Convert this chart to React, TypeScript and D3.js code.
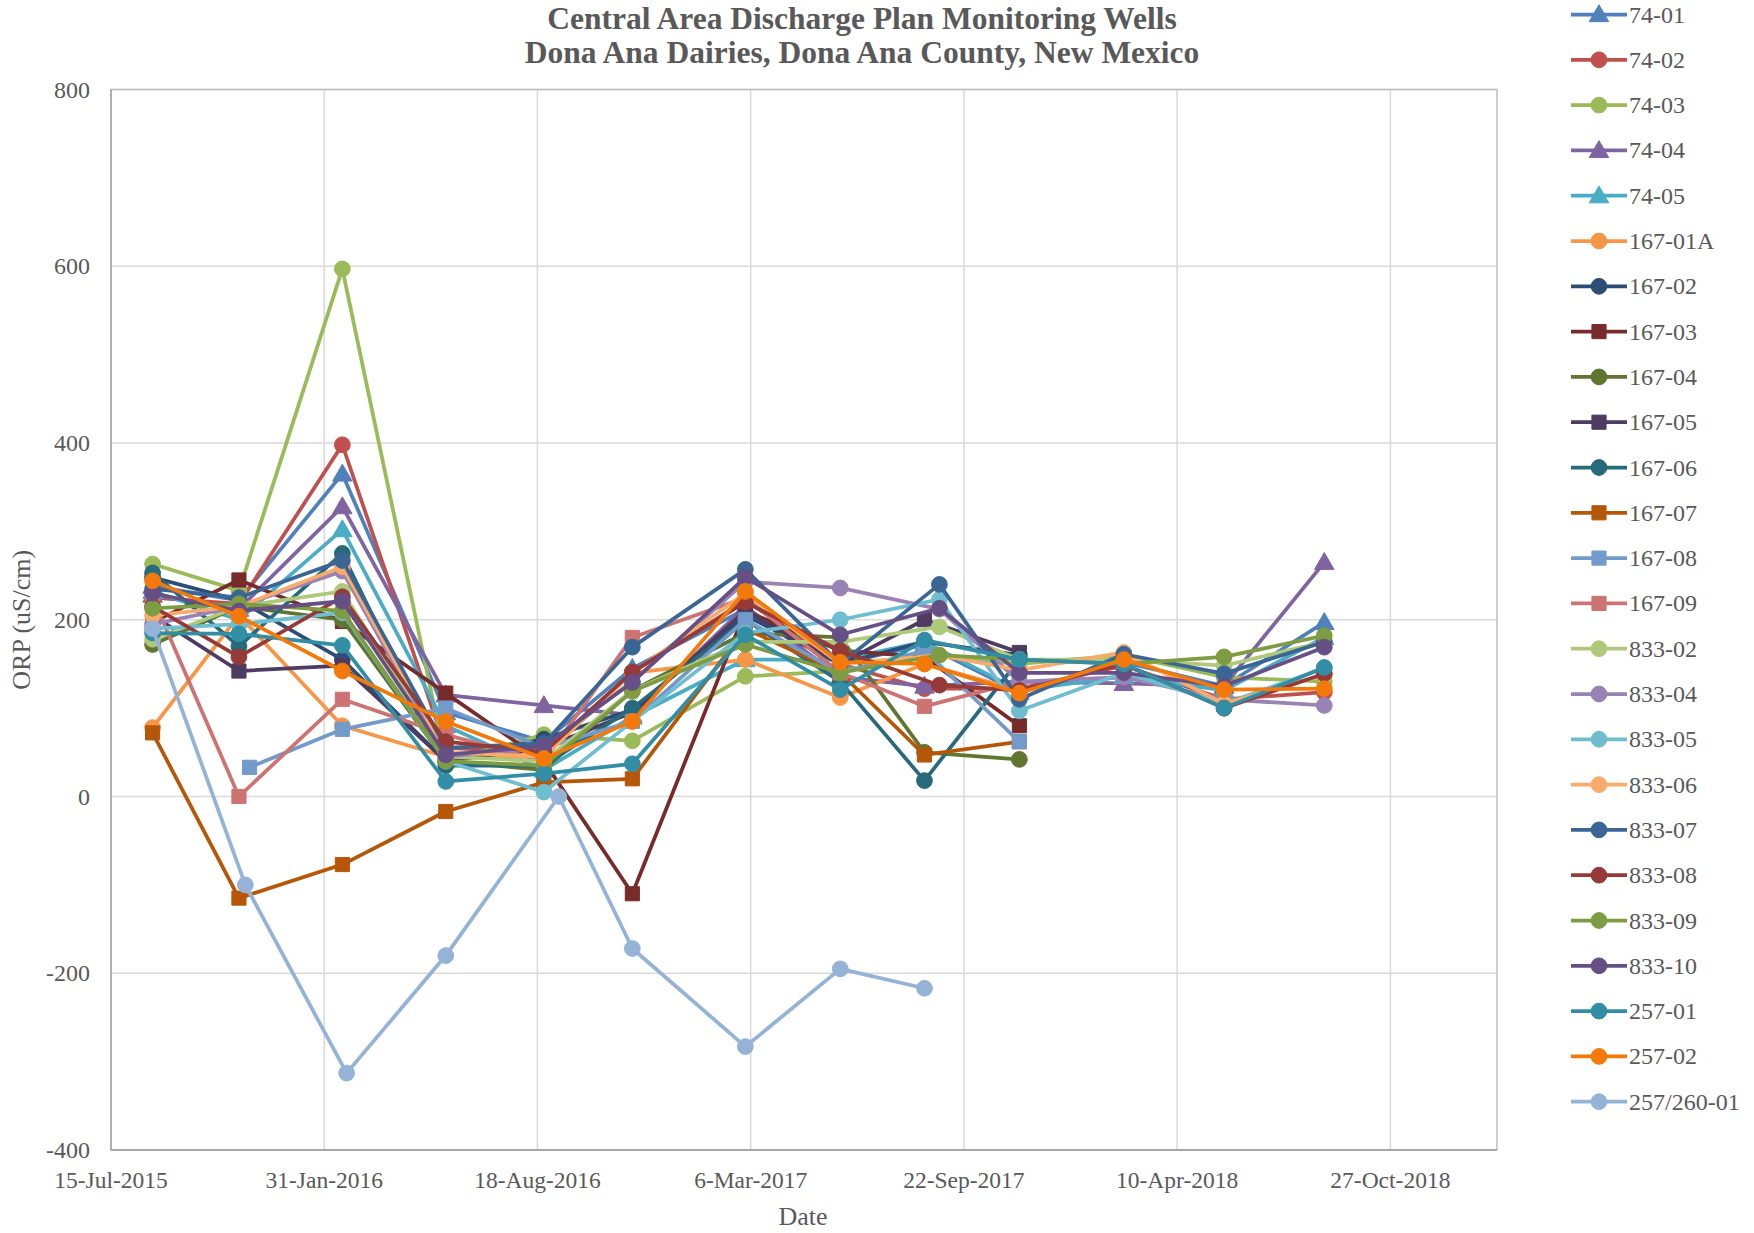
import React from "react";
import * as d3 from "d3";

// ---------- data ----------
const yTicks = [-400, -200, 0, 200, 400, 600, 800];
const xTickDates = ["2015-07-15", "2016-01-31", "2016-08-18", "2017-03-06", "2017-09-22", "2018-04-10", "2018-10-27"];
const xDomainDates = ["2015-07-15", "2019-02-04"];

const datesMain = ["2015-08-23", "2015-11-12", "2016-02-17", "2016-05-24", "2016-08-24", "2016-11-15", "2017-03-01", "2017-05-29", "2017-08-16", "2017-11-13", "2018-02-19", "2018-05-24", "2018-08-26"];
const dates833 = ["2015-08-23", "2015-11-12", "2016-02-17", "2016-05-24", "2016-08-24", "2016-11-15", "2017-03-01", "2017-05-29", "2017-08-30", "2017-11-13", "2018-02-19", "2018-05-24", "2018-08-26"];
const dates167_08 = ["2015-08-23", "2015-11-22", "2016-02-17", "2016-05-24", "2016-08-24", "2016-11-15", "2017-03-01", "2017-05-29", "2017-08-16", "2017-11-13"];
const dates257_260 = ["2015-08-23", "2015-11-18", "2016-02-21", "2016-05-24", "2016-09-07", "2016-11-15", "2017-03-01", "2017-05-29", "2017-08-16"];

const v74_01 = [238, 222, 365, 95, 62, 145, 212, 150, 172, 118, 152, 125, 197];
const v74_02 = [225, 218, 398, 55, 50, 140, 222, 150, 122, 122, 148, 110, 118];
const v74_03 = [263, 233, 597, 40, 70, 63, 136, 142, 160, 150, 160, 135, 130];
const v74_04 = [228, 212, 328, 115, 103, 92, 215, 135, 125, 130, 128, 125, 265];
const v74_05 = [232, 200, 302, 80, 30, 90, 155, 155, 175, 120, 136, 120, 180];
const v167_01A = [78, 205, 80, 45, 45, 140, 155, 112, 150, 120];
const v167_02 = [248, 222, 155, 40, 65, 98, 205, 150, 175, 160];
const v167_03 = [197, 245, 198, 117, 40, -110, 210, 165, 158, 80];
const v167_04 = [172, 215, 200, 40, 30, 120, 185, 180, 50, 42];
const v167_05 = [205, 142, 148, 40, 55, 95, 210, 150, 200, 163];
const v167_06 = [253, 170, 275, 35, 35, 100, 200, 130, 18, 155];
const v167_07 = [72, -115, -77, -17, 16, 20, 190, 140, 47, 62];
const v167_08 = [null, 33, 76, 100, 55, 85, 200, 140, 165, 62];
const v167_09 = [225, 0, 110, 70, 40, 180, 225, 140, 102, 130];
const v833_02 = [178, 215, 232, 45, 40, 120, 175, 175, 192, 155, 155, 148, 175];
const v833_04 = [195, 215, 255, 45, 55, 130, 243, 236, 212, 130, 135, 110, 103];
const v833_05 = [190, 195, 208, 40, 5, 85, 185, 200, 223, 97, 140, 105, 145];
const v833_06 = [205, 215, 260, 50, 45, 140, 230, 150, 160, 143, 163, 105, 138];
const v833_07 = [235, 225, 267, 55, 60, 169, 257, 150, 240, 110, 161, 139, 175];
const v833_08 = [215, 158, 226, 62, 50, 141, 220, 165, 126, 120, 150, 100, 139];
const v833_09 = [213, 218, 210, 40, 35, 119, 172, 140, 160, 155, 150, 158, 182];
const v833_10 = [230, 210, 221, 47, 57, 129, 248, 183, 213, 140, 140, 125, 169];
const v257_01 = [185, 184, 171, 17, 26, 37, 183, 121, 177, 155, 150, 100, 146];
const v257_02 = [244, 204, 142, 85, 43, 85, 232, 152, 150, 117, 155, 121, 122];
const v257_260_01 = [190, -100, -313, -180, 0, -172, -283, -195, -217];

type Shape = "circle" | "square" | "triangle";
const seriesList: { name: string; color: string; shape: Shape; dates: string[]; values: (number | null)[] }[] = [
  { name: "74-01", color: "#4F81BD", shape: "triangle", dates: datesMain, values: v74_01 },
  { name: "74-02", color: "#C0504D", shape: "circle", dates: datesMain, values: v74_02 },
  { name: "74-03", color: "#9BBB59", shape: "circle", dates: datesMain, values: v74_03 },
  { name: "74-04", color: "#8064A2", shape: "triangle", dates: datesMain, values: v74_04 },
  { name: "74-05", color: "#4BACC6", shape: "triangle", dates: datesMain, values: v74_05 },
  { name: "167-01A", color: "#F79646", shape: "circle", dates: datesMain, values: v167_01A },
  { name: "167-02", color: "#2C4D75", shape: "circle", dates: datesMain, values: v167_02 },
  { name: "167-03", color: "#772C2A", shape: "square", dates: datesMain, values: v167_03 },
  { name: "167-04", color: "#5F7530", shape: "circle", dates: datesMain, values: v167_04 },
  { name: "167-05", color: "#4D3B62", shape: "square", dates: datesMain, values: v167_05 },
  { name: "167-06", color: "#276A7C", shape: "circle", dates: datesMain, values: v167_06 },
  { name: "167-07", color: "#B65708", shape: "square", dates: datesMain, values: v167_07 },
  { name: "167-08", color: "#729ACA", shape: "square", dates: dates167_08, values: v167_08 },
  { name: "167-09", color: "#CD7371", shape: "square", dates: datesMain, values: v167_09 },
  { name: "833-02", color: "#AFC97A", shape: "circle", dates: dates833, values: v833_02 },
  { name: "833-04", color: "#9983B5", shape: "circle", dates: dates833, values: v833_04 },
  { name: "833-05", color: "#6FBDD1", shape: "circle", dates: dates833, values: v833_05 },
  { name: "833-06", color: "#F9AB6B", shape: "circle", dates: dates833, values: v833_06 },
  { name: "833-07", color: "#3A6595", shape: "circle", dates: dates833, values: v833_07 },
  { name: "833-08", color: "#963A38", shape: "circle", dates: dates833, values: v833_08 },
  { name: "833-09", color: "#7E9C42", shape: "circle", dates: dates833, values: v833_09 },
  { name: "833-10", color: "#664F84", shape: "circle", dates: dates833, values: v833_10 },
  { name: "257-01", color: "#318EA5", shape: "circle", dates: datesMain, values: v257_01 },
  { name: "257-02", color: "#F37A0A", shape: "circle", dates: datesMain, values: v257_02 },
  { name: "257/260-01", color: "#95B3D7", shape: "circle", dates: dates257_260, values: v257_260_01 },
];

// ---------- layout ----------
const W = 1754;
const H = 1233;
const plot = { left: 111, right: 1497, top: 89.5, bottom: 1150 };
const FONT = "'Liberation Serif', 'Times New Roman', serif";

const parse = d3.utcParse("%Y-%m-%d");
const fmt = d3.utcFormat("%-d-%b-%Y");

const x = d3.scaleUtc().domain(xDomainDates.map((d) => parse(d) as Date)).range([plot.left, plot.right]);
const y = d3.scaleLinear().domain([-400, 800]).range([plot.bottom, plot.top]);

const symbolPath = (shape: Shape) => {
  const type = shape === "circle" ? d3.symbolCircle : shape === "square" ? d3.symbolSquare : d3.symbolTriangle;
  const size = shape === "circle" ? 195 : shape === "square" ? 200 : 165;
  return d3.symbol().type(type).size(size)() as string;
};

function Marker({ shape, color, cx, cy }: { shape: Shape; color: string; cx: number; cy: number }) {
  return (
    <path d={symbolPath(shape)} transform={`translate(${cx},${cy + (shape === "triangle" ? 1.5 : 0)})`} fill={color} stroke={color} strokeWidth={1} />
  );
}

export default function App() {
  const line = d3
    .line<{ d: Date; v: number }>()
    .x((p) => x(p.d))
    .y((p) => y(p.v));

  return (
    <svg width={W} height={H} style={{ position: "absolute", left: 0, top: 0, background: "#fff" }} fontFamily={FONT}>
      <rect x={0} y={0} width={W} height={H} fill="#fff" />
      {/* title */}
      <text x={862} y={29} textAnchor="middle" fontSize={31.5} fontWeight="bold" fill="#595959">
        Central Area Discharge Plan Monitoring Wells
      </text>
      <text x={862} y={63} textAnchor="middle" fontSize={31.5} fontWeight="bold" fill="#595959">
        Dona Ana Dairies, Dona Ana County, New Mexico
      </text>

      {/* gridlines */}
      {yTicks.map((t) => (
        <line key={"gy" + t} x1={plot.left} x2={plot.right} y1={y(t)} y2={y(t)} stroke="#D9D9D9" strokeWidth={1.5} />
      ))}
      {xTickDates.map((t) => {
        const xx = x(parse(t) as Date);
        return <line key={"gx" + t} x1={xx} x2={xx} y1={plot.top} y2={plot.bottom} stroke="#D9D9D9" strokeWidth={1.5} />;
      })}
      <rect x={plot.left} y={plot.top} width={plot.right - plot.left} height={plot.bottom - plot.top} fill="none" stroke="#BFBFBF" strokeWidth={1.5} />
      <line x1={plot.left} x2={plot.right} y1={plot.bottom} y2={plot.bottom} stroke="#A6A6A6" strokeWidth={2} />
      <line x1={plot.left} x2={plot.left} y1={plot.top} y2={plot.bottom} stroke="#A6A6A6" strokeWidth={1.5} />

      {/* y tick labels */}
      {yTicks.map((t) => (
        <text key={"ty" + t} x={plot.left - 21} y={y(t) + 8} textAnchor="end" fontSize={24} fill="#595959">
          {t}
        </text>
      ))}
      {/* x tick labels */}
      {xTickDates.map((t) => {
        const d = parse(t) as Date;
        return (
          <text key={"tx" + t} x={x(d)} y={1188} textAnchor="middle" fontSize={23.5} fill="#595959">
            {fmt(d)}
          </text>
        );
      })}
      {/* axis titles */}
      <text x={803} y={1225} textAnchor="middle" fontSize={26} fill="#595959">
        Date
      </text>
      <text transform={`translate(30,${(plot.top + plot.bottom) / 2}) rotate(-90)`} textAnchor="middle" fontSize={26} fill="#595959">
        ORP (uS/cm)
      </text>

      {/* series */}
      {seriesList.map((s) => {
        const pts = s.values
          .map((v, i) => ({ d: parse(s.dates[i]) as Date, v }))
          .filter((p) => p.v !== null) as { d: Date; v: number }[];
        return (
          <g key={s.name}>
            <path d={line(pts) as string} fill="none" stroke={s.color} strokeWidth={3.75} strokeLinejoin="round" />
            {pts.map((p, i) => (
              <Marker key={i} shape={s.shape} color={s.color} cx={x(p.d)} cy={y(p.v)} />
            ))}
          </g>
        );
      })}

      {/* legend */}
      {seriesList.map((s, i) => {
        const cy = 14.5 + i * 45.3;
        return (
          <g key={"lg" + s.name}>
            <line x1={1571} x2={1627} y1={cy} y2={cy} stroke={s.color} strokeWidth={3.75} />
            <Marker shape={s.shape} color={s.color} cx={1599} cy={cy} />
            <text x={1629} y={cy + 8} fontSize={24} fill="#595959">
              {s.name}
            </text>
          </g>
        );
      })}
    </svg>
  );
}
